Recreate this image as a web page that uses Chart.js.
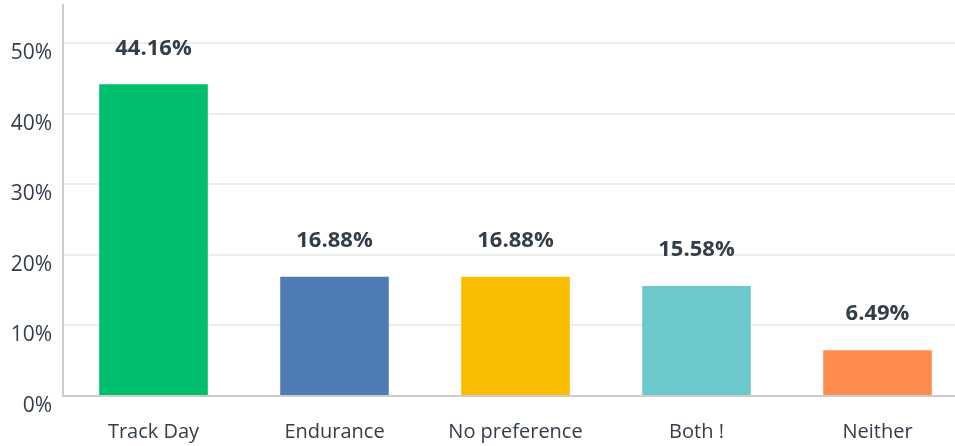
<!DOCTYPE html>
<html>
<head>
<meta charset="utf-8">
<script src="https://cdn.jsdelivr.net/npm/chart.js@4"></script>
<style>
  html,body{margin:0;padding:0;background:#fff;overflow:hidden}
  #wrap{width:968px;height:446px}
</style>
</head>
<body>
<div id="wrap"><canvas id="surveyChart" width="968" height="446"></canvas></div>
<script>
let categories=['Track Day','Endurance','No preference','Both !','Neither']
let percents=[44.16,16.88,16.88,15.58,6.49]
let barColors=['#00bf6f','#507cb6','#f9be00','#6bc8cd','#ff8b4f']
let yTicks=[0,10,20,30,40,50]

let textColor='#333e48'
let fontFamily='"Open Sans", sans-serif'

// draws the value above each bar
let valueLabels={
  id:'valueLabels',
  afterDatasetsDraw(chart){
    let ctx=chart.ctx
    let meta=chart.getDatasetMeta(0)
    ctx.save()
    ctx.font='bold 22px '+fontFamily
    ctx.fillStyle=textColor
    ctx.textAlign='center'
    ctx.textBaseline='middle'
    meta.data.forEach((bar,i)=>{
      ctx.fillText(percents[i].toFixed(2)+'%',bar.x,bar.y-36)
    })
    ctx.restore()
  }
}

let myChart=document.getElementById('surveyChart').getContext('2d')
let chart=new Chart(myChart,{
  type:'bar',
  data:{
    labels:categories,
    datasets:[{
      data:percents,
      backgroundColor:barColors,
      barPercentage:0.6,
      categoryPercentage:1
    }]
  },
  options:{
    responsive:false,
    animation:false,
    layout:{padding:{top:5,left:0,right:0,bottom:0}},
    plugins:{legend:{display:false},tooltip:{enabled:false}},
    scales:{
      x:{
        grid:{display:false,drawTicks:false},
        border:{color:'#cccccc',width:2},
        ticks:{color:textColor,font:{family:fontFamily,size:20},padding:24},
        afterFit(axis){
          axis.height=50
          axis.paddingLeft=0
          axis.paddingRight=0
        }
      },
      y:{
        min:0,
        max:55.4,
        afterBuildTicks(axis){
          axis.ticks=yTicks.map(v=>({value:v}))
        },
        grid:{color:'#eeeeee',lineWidth:2,drawTicks:false},
        border:{color:'#cccccc',width:2},
        ticks:{
          color:textColor,
          font:{family:fontFamily,size:21},
          padding:11,
          labelOffset:10,
          callback:v=>v+'%'
        },
        afterFit(axis){
          axis.width=63
          axis.paddingTop=0
          axis.paddingBottom=0
        }
      }
    }
  },
  plugins:[valueLabels]
})
</script>
</body>
</html>
